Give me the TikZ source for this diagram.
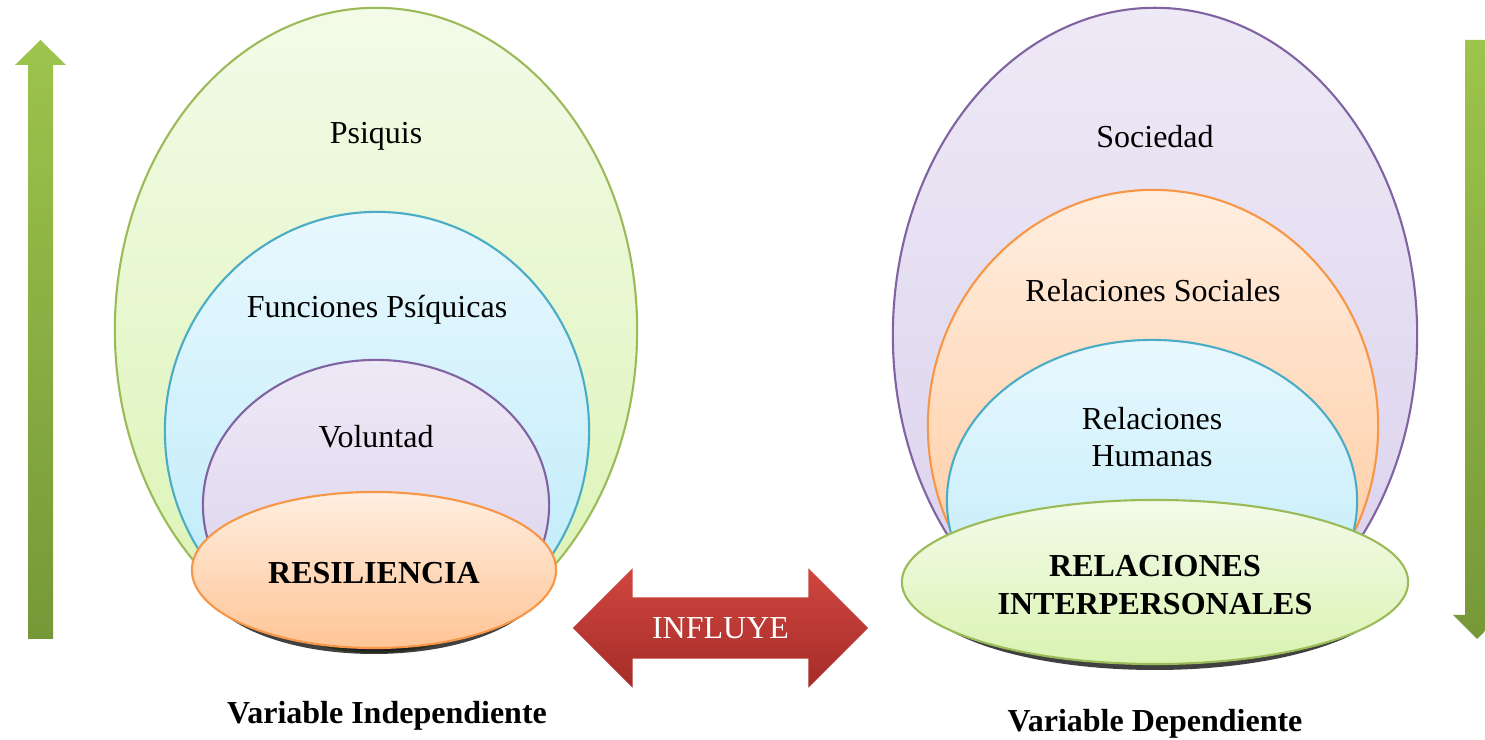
\documentclass[tikz,border=0pt]{standalone}
\usepackage{fontspec}
\setmainfont{Liberation Serif}
\usetikzlibrary{shapes.geometric,shapes.arrows}

\definecolor{grnline}{RGB}{155,187,89}
\definecolor{grntop}{RGB}{243,251,233}
\definecolor{grnbot}{RGB}{218,243,178}
\definecolor{blueline}{RGB}{75,172,198}
\definecolor{bluetop}{RGB}{232,248,254}
\definecolor{bluebot}{RGB}{186,234,249}
\definecolor{purpline}{RGB}{128,100,162}
\definecolor{purptop}{RGB}{238,233,246}
\definecolor{purpbot}{RGB}{217,208,236}
\definecolor{orgline}{RGB}{247,150,70}
\definecolor{orgtop}{RGB}{255,238,224}
\definecolor{orgbot}{RGB}{255,197,150}
\definecolor{arwtop}{RGB}{157,196,76}
\definecolor{arwbot}{RGB}{118,152,56}
\definecolor{redtop}{RGB}{208,70,64}
\definecolor{redbot}{RGB}{165,44,40}

\begin{document}
\begin{tikzpicture}[x=0.01cm, y=0.01cm,
  every node/.style={font=\fontsize{9.1}{10.6}\selectfont, align=center},
  ring/.style={ellipse, draw, line width=0.6pt, inner sep=0pt},
  greenring/.style={ring, draw=grnline, top color=grntop, bottom color=grnbot},
  bluering/.style={ring, draw=blueline, top color=bluetop, bottom color=bluebot},
  purpring/.style={ring, draw=purpline, top color=purptop, bottom color=purpbot},
  orgring/.style={ring, draw=orgline, top color=orgtop, bottom color=orgbot},
  core/.style={font=\fontsize{9.1}{10.6}\selectfont\bfseries},
  caption/.style={font=\fontsize{9.1}{10.6}\selectfont\bfseries}]
  \useasboundingbox (0,0) rectangle (1485,740);
  \clip (0,0) rectangle (1485,740);

  % left side arrow
  \shade[top color=arwtop, bottom color=arwbot] (28,101) -- (28,675) -- (15,675) -- (40.5,700)
    -- (66,675) -- (53,675) -- (53,101) -- cycle;

  % independent variable
  \node[greenring, minimum width=5.22cm, minimum height=6.44cm] (psiquis) at (376,410) {};
  \node[bluering, minimum width=4.24cm, minimum height=4.38cm] (funciones) at (377,309) {};
  \node[purpring, minimum width=3.46cm, minimum height=2.90cm] (voluntad) at (376,235) {};
  \fill[black, opacity=0.75] (374,164) ellipse (172 and 78);
  \node[orgring, minimum width=3.64cm, minimum height=1.56cm, core] (resiliencia) at (374,170) {};
  \node[core] (resilienciatxt) at (374,167) {RESILIENCIA};
  \node (psiquistxt) at (376,604) {Psiquis};
  \node (funcionestxt) at (377,430) {Funciones Psíquicas};
  \node (voluntadtxt) at (376,303) {Voluntad};
  \node[caption] (indep) at (387,24) {Variable Independiente};

  % influence
  \node[double arrow, double arrow head extend=0.29cm, minimum height=2.95cm,
    text height=0.22cm, text depth=0cm, inner xsep=0pt, inner ysep=0.19cm,
    top color=redtop, bottom color=redbot, text=white] (influye) at (720.5,112) {INFLUYE};

  % dependent variable
  \node[purpring, minimum width=5.24cm, minimum height=6.54cm] (sociedad) at (1155,405) {};
  \node[orgring, minimum width=4.50cm, minimum height=4.72cm] (sociales) at (1153,314) {};
  \node[bluering, minimum width=4.10cm, minimum height=3.22cm] (humanas) at (1152,239) {};
  \fill[black, opacity=0.75] (1155,152) ellipse (240 and 82);
  \node[greenring, minimum width=5.06cm, minimum height=1.64cm] (interpersonales) at (1155,158) {};
  \node[core] (interpersonalestxt) at (1155,155) {RELACIONES\\INTERPERSONALES};
  \node (sociedadtxt) at (1155,603) {Sociedad};
  \node (socialestxt) at (1153,449) {Relaciones Sociales};
  \node (humanastxt) at (1152,303) {Relaciones\\Humanas};
  \node[caption] (dep) at (1155,16) {Variable Dependiente};

  % right side arrow
  \shade[top color=arwtop, bottom color=arwbot] (1465,700) -- (1465,125) -- (1453,125) -- (1477,101)
    -- (1501,125) -- (1489,125) -- (1489,700) -- cycle;
\end{tikzpicture}
\end{document}
